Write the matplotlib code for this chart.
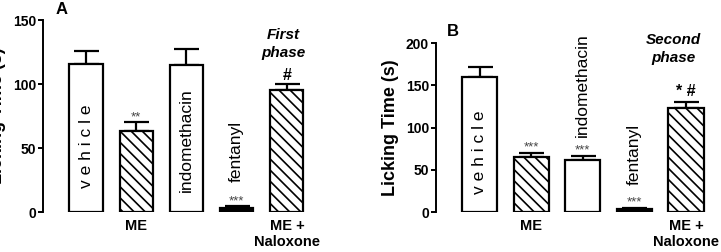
import matplotlib
matplotlib.use("Agg")
import matplotlib.pyplot as plt

plt.rcParams["font.family"] = ["Liberation Sans", "DejaVu Sans"]
plt.rcParams["hatch.linewidth"] = 1.2

groups = ["vehicle", "ME", "indomethacin", "fentanyl", "ME +\nNaloxone"]

first_mean = [116, 63, 115, 3, 95]
first_err = [10, 7, 12, 1.5, 5]
second_mean = [160, 65, 61, 3, 123]
second_err = [12, 5, 5, 1.5, 7]

hatched = [False, True, False, False, True]
filled = [False, False, False, True, False]

# rotated names written on/over the bars: (group index, y centre)
first_names = [(0, "v e h i c l e", 51), (2, "indomethacin", 56), (3, "fentanyl", 47)]
second_names = [(0, "v e h i c l e", 71), (2, "indomethacin", 150), (3, "fentanyl", 68)]

# significance marks: (group index, text, y, bold)
first_marks = [(1, "**", 74, False), (3, "***", 8, False), (4, "#", 107, True)]
second_marks = [(1, "***", 76, False), (2, "***", 73, False), (3, "***", 11, False), (4, "* #", 143, True)]


def panel(ax, means, errs, ymax, yticks, width, names, marks):
    x = list(range(len(means)))
    for i in x:
        ax.bar(i, means[i], width=width,
               facecolor="black" if filled[i] else "white",
               edgecolor="black", linewidth=1.6,
               hatch="\\\\\\" if hatched[i] else None, zorder=2)
    ax.errorbar(x, means, yerr=[[0] * len(errs), errs], fmt="none",
                ecolor="black", elinewidth=1.6, capsize=9, capthick=1.6, zorder=1)
    ax.set_ylim(0, ymax)
    ax.set_yticks(yticks)
    ax.spines[["top", "right", "bottom"]].set_visible(False)
    ax.spines["left"].set_linewidth(1.4)
    ax.tick_params(axis="y", length=3.5, width=1.4, labelsize=10, pad=1.5)
    for lab in ax.get_yticklabels():
        lab.set_fontweight("bold")
    ax.set_xticks([1, 4])
    ax.set_xticklabels([groups[1], groups[4]], fontsize=10.5, fontweight="bold")
    ax.tick_params(axis="x", length=0, pad=5)
    ax.set_ylabel("Licking Time (s)", fontsize=13, fontweight="bold", labelpad=5)
    for i, txt, yc in names:
        ax.text(i, yc, txt, rotation=90, ha="center", va="center", fontsize=12.5)
    for i, txt, yc, bold in marks:
        if bold:
            ax.text(i, yc, txt, ha="center", va="center", fontsize=11.5, fontweight="bold")
        else:
            ax.text(i, yc, txt, ha="center", va="center", fontsize=9.5, color="#444444")


fig = plt.figure(figsize=(7.21, 2.52), dpi=100)

ax1 = fig.add_axes([43 / 721, 40 / 252, 269 / 721, 192 / 252])
panel(ax1, first_mean, first_err, 150, [0, 50, 100, 150], 0.66, first_names, first_marks)
ax1.set_xlim(-0.857, 4.5)

ax2 = fig.add_axes([436 / 721, 40 / 252, 282 / 721, 169 / 252])
panel(ax2, second_mean, second_err, 200, [0, 50, 100, 150, 200], 0.68, second_names, second_marks)
ax2.set_xlim(-0.843, 4.62)

fig.text(62 / 721, 1 - 10 / 252, "A", ha="center", va="center", fontsize=12, fontweight="bold")
fig.text(453 / 721, 1 - 32 / 252, "B", ha="center", va="center", fontsize=12, fontweight="bold")
fig.text(283 / 721, 1 - 44 / 252, "First\nphase", ha="center", va="center",
         fontsize=11, fontweight="bold", style="italic", linespacing=1.3)
fig.text(673 / 721, 1 - 49 / 252, "Second\nphase", ha="center", va="center",
         fontsize=11, fontweight="bold", style="italic", linespacing=1.3)

fig.savefig("out.png", dpi=100)
